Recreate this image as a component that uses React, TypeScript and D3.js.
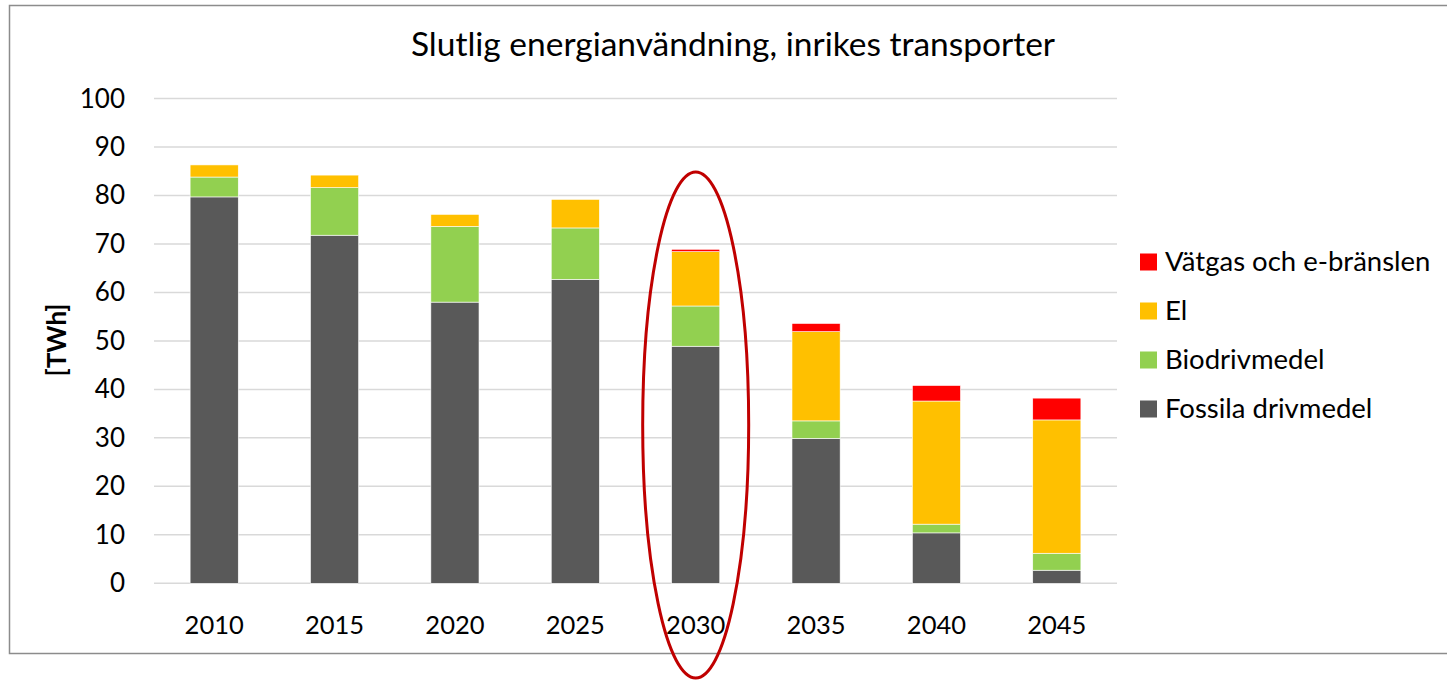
import React from "react";
import * as d3 from "d3";

const years = ["2010", "2015", "2020", "2025", "2030", "2035", "2040", "2045"];
const fossila = [79.7, 71.8, 58.0, 62.7, 48.9, 29.9, 10.4, 2.7];
const bio = [4.1, 9.8, 15.6, 10.6, 8.3, 3.6, 1.8, 3.5];
const el = [2.5, 2.6, 2.5, 5.9, 11.2, 18.4, 25.4, 27.5];
const vatgas = [0, 0, 0, 0, 0.5, 1.7, 3.2, 4.5];
const yTicks = [0, 10, 20, 30, 40, 50, 60, 70, 80, 90, 100];

const seriesNames = ["Fossila drivmedel", "Biodrivmedel", "El", "Vätgas och e-bränslen"];
const seriesColors = ["#595959", "#92D050", "#FFC000", "#FF0000"];

const W = 1447;
const H = 681;
const FONT = "Lato, Carlito, Calibri, 'Open Sans', sans-serif";

export default function App() {
  const x = d3.scaleBand<string>().domain(years).range([154, 1117]).paddingInner(0.6).paddingOuter(0.3);
  const y = d3.scaleLinear().domain([0, 100]).range([583.3, 98.5]);

  const rows = years.map((yr, i) => ({
    year: yr,
    f: fossila[i],
    b: bio[i],
    e: el[i],
    v: vatgas[i],
  }));
  const stack = d3.stack<any>().keys(["f", "b", "e", "v"]);
  const layers = stack(rows);

  const legendOrder = [3, 2, 1, 0];
  const cx2030 = (x("2030") ?? 0) + x.bandwidth() / 2;

  return (
    <svg width={W} height={H} style={{ position: "absolute", left: 0, top: 0, background: "#fff" }}>
      <rect x={9.5} y={5.5} width={1445} height={648} fill="#fff" stroke="#8c8c8c" strokeWidth={1.5} />
      <text x={733} y={56} textAnchor="middle" fontFamily={FONT} fontSize={33.5} fill="#000">
        Slutlig energianvändning, inrikes transporter
      </text>
      {yTicks.map((t) => (
        <g key={t}>
          <line x1={154} x2={1117} y1={y(t)} y2={y(t)} stroke="#d9d9d9" strokeWidth={1.5} />
          <text x={125} y={y(t) + 9} textAnchor="end" fontFamily={FONT} fontSize={26} fill="#000">
            {t}
          </text>
        </g>
      ))}
      {layers.map((layer, li) => (
        <g key={li}>
          {layer.map((d: any, i: number) =>
            d[1] - d[0] > 0 ? (
              <rect
                key={i}
                x={x(years[i])}
                y={y(d[1])}
                width={x.bandwidth()}
                height={y(d[0]) - y(d[1])}
                fill={seriesColors[li]}
                stroke="#ffffff"
                strokeWidth={0.6}
              />
            ) : null
          )}
        </g>
      ))}
      {years.map((yr) => (
        <text
          key={yr}
          x={(x(yr) ?? 0) + x.bandwidth() / 2}
          y={634}
          textAnchor="middle"
          fontFamily={FONT}
          fontSize={25.5}
          fill="#000"
        >
          {yr}
        </text>
      ))}
      <text
        transform={`translate(66,340) rotate(-90)`}
        textAnchor="middle"
        fontFamily={FONT}
        fontSize={26}
        fontWeight="bold"
        fill="#000"
      >
        [TWh]
      </text>
      <ellipse cx={cx2030} cy={425} rx={53} ry={253} fill="none" stroke="#C00000" strokeWidth={3} />
      {legendOrder.map((si, k) => (
        <g key={si} transform={`translate(1140, ${262 + k * 49})`}>
          <rect x={0} y={-8.5} width={17} height={17} fill={seriesColors[si]} />
          <text x={25} y={9} fontFamily={FONT} fontSize={27.5} fill="#000">
            {seriesNames[si]}
          </text>
        </g>
      ))}
    </svg>
  );
}
